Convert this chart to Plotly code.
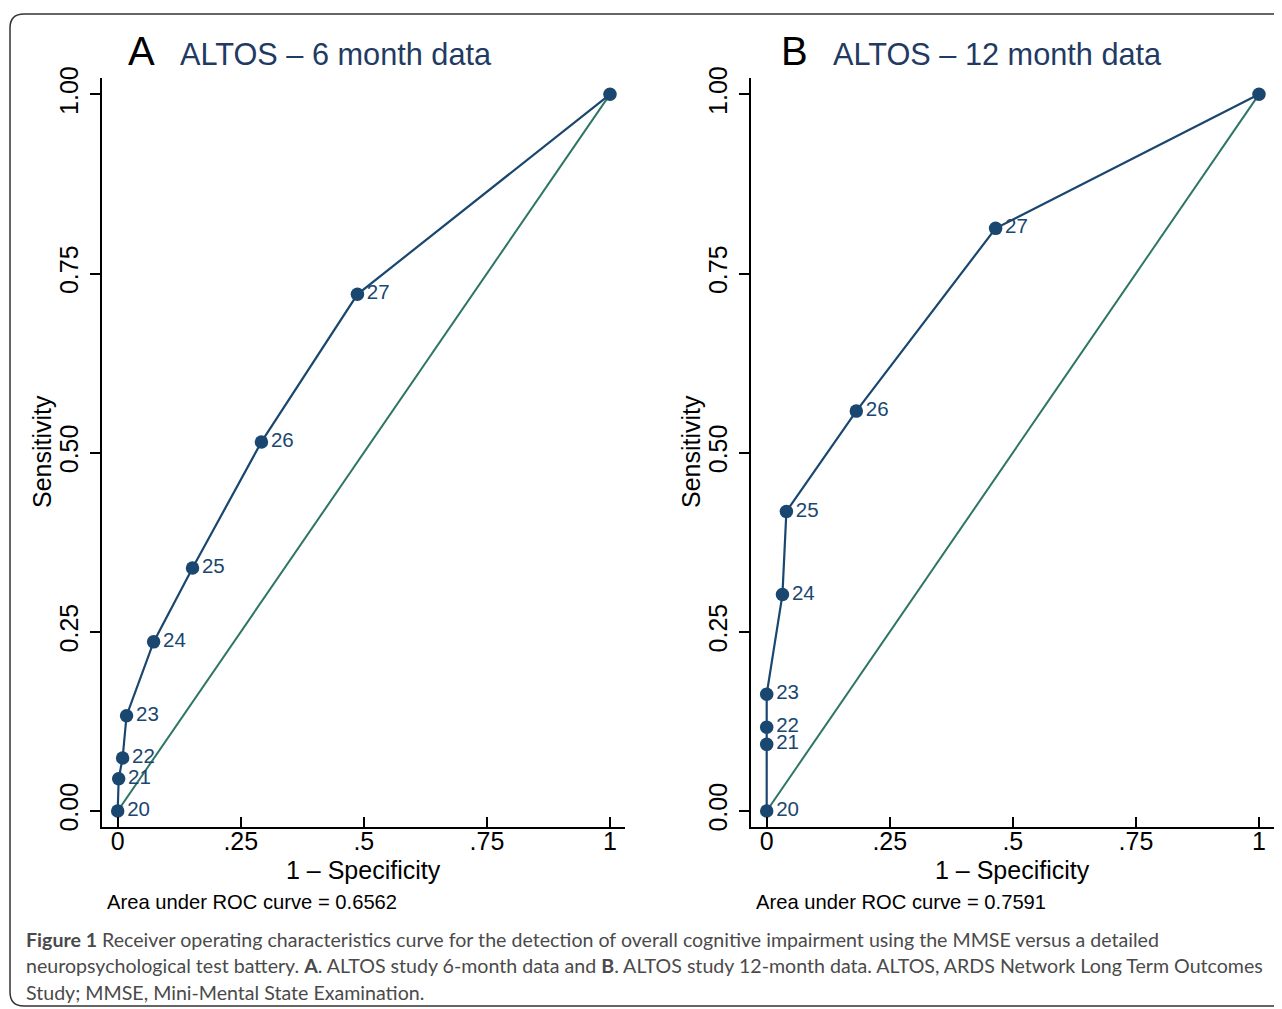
import plotly.graph_objects as go

# ---------------- data ----------------
cutoff_labels = ["20", "21", "22", "23", "24", "25", "26", "27", ""]

fpr_6m = [0.0, 0.002, 0.010, 0.018, 0.073, 0.152, 0.292, 0.487, 1.0]
sens_6m = [0.0, 0.045, 0.074, 0.133, 0.236, 0.339, 0.515, 0.721, 1.0]

fpr_12m = [0.0, 0.0, 0.0, 0.0, 0.032, 0.040, 0.182, 0.465, 1.0]
sens_12m = [0.0, 0.093, 0.117, 0.163, 0.302, 0.418, 0.558, 0.813, 1.0]

ref_line = [0.0, 1.0]

x_tickvals = [0, 0.25, 0.5, 0.75, 1]
x_ticktext = ["0", ".25", ".5", ".75", "1"]
y_tickvals = [0, 0.25, 0.5, 0.75, 1]
y_ticktext = ["0.00", "0.25", "0.50", "0.75", "1.00"]

panel_letters = ["A", "B"]
panel_titles = ["ALTOS \u2013 6 month data", "ALTOS \u2013 12 month data"]
auc_texts = ["Area under ROC curve = 0.6562", "Area under ROC curve = 0.7591"]

caption_lines = [
    "<b>Figure 1</b> Receiver operating characteristics curve for the detection of overall cognitive impairment using the MMSE versus a detailed",
    "neuropsychological test battery. <b>A</b>. ALTOS study 6-month data and <b>B</b>. ALTOS study 12-month data. ALTOS, ARDS Network Long Term Outcomes",
    "Study; MMSE, Mini-Mental State Examination.",
]

# ---------------- styling / layout ----------------
W, H = 1282, 1009
OFF = 8  # page body margin
NAVY = "#1a476f"
TITLE_NAVY = "#1f3b63"
TEAL = "#2e7566"
FONT = "Liberation Sans, Arial, Helvetica, sans-serif"


def px(x):
    return (x - OFF) / W


def py(y):
    return 1 - (y - OFF) / H


fig = go.Figure()

panels = [
    dict(fpr=fpr_6m, sens=sens_6m, xa="x", ya="y", left=101.7, right=625),
    dict(fpr=fpr_12m, sens=sens_12m, xa="x2", ya="y2", left=750.7, right=1274),
]

for i, p in enumerate(panels):
    fig.add_trace(go.Scatter(
        x=ref_line, y=ref_line, mode="lines",
        line=dict(color=TEAL, width=2),
        xaxis=p["xa"], yaxis=p["ya"], showlegend=False, hoverinfo="skip",
    ))
    fig.add_trace(go.Scatter(
        x=p["fpr"], y=p["sens"], mode="lines+markers+text",
        line=dict(color=NAVY, width=2.2),
        marker=dict(color=NAVY, size=13.5),
        text=cutoff_labels, textposition="middle right",
        textfont=dict(color=NAVY, size=20.5, family=FONT),
        xaxis=p["xa"], yaxis=p["ya"], showlegend=False,
    ))

xrange_ = [-0.0325, 1.0305]
yrange_ = [-0.0219, 1.0228]
ydom = [py(826.7), py(78)]

axis_common = dict(
    showgrid=False, zeroline=False, showline=True, linecolor="black",
    linewidth=1.5, tickcolor="black", tickwidth=1.5, ticklen=10,
    tickfont=dict(size=25, color="black", family=FONT), automargin=False,
)

layout_axes = {}
for i, p in enumerate(panels):
    sfx = "" if i == 0 else str(i + 1)
    layout_axes["xaxis" + sfx] = dict(
        axis_common, domain=[px(p["left"]), px(p["right"])], range=xrange_,
        tickvals=x_tickvals, ticktext=x_ticktext, ticks="inside",
        anchor="y" + sfx, ticklabelstandoff=-8,
    )
    layout_axes["yaxis" + sfx] = dict(
        axis_common, domain=ydom, range=yrange_,
        tickvals=y_tickvals, ticktext=y_ticktext, ticks="outside",
        tickangle=-90, anchor="x" + sfx, ticklabelstandoff=2,
    )

fig.update_layout(
    width=W, height=H,
    margin=dict(l=0, r=0, t=0, b=0, pad=0, autoexpand=False),
    paper_bgcolor="white", plot_bgcolor="white",
    font=dict(family=FONT, color="black"),
    **layout_axes,
)

annotations = []
letter_x = [126, 779]
title_x = [178, 831]
auc_x = [105, 754]
xtitle_x = [363, 1012]
ytitle_x = [42, 691]
for i in range(2):
    annotations.append(dict(
        xref="paper", yref="paper", x=px(letter_x[i]), y=py(51),
        text=panel_letters[i], showarrow=False, xanchor="left", yanchor="middle",
        font=dict(size=40, color="black", family=FONT),
    ))
    annotations.append(dict(
        xref="paper", yref="paper", x=px(title_x[i]), y=py(55),
        text=panel_titles[i], showarrow=False, xanchor="left", yanchor="middle",
        font=dict(size=30.7, color=TITLE_NAVY, family=FONT),
    ))
    annotations.append(dict(
        xref="paper", yref="paper", x=px(xtitle_x[i]), y=py(870),
        text="1 \u2013 Specificity", showarrow=False, xanchor="center", yanchor="middle",
        font=dict(size=25, color="black", family=FONT),
    ))
    annotations.append(dict(
        xref="paper", yref="paper", x=px(ytitle_x[i]), y=py(452),
        text="Sensitivity", showarrow=False, xanchor="center", yanchor="middle",
        textangle=-90, font=dict(size=25, color="black", family=FONT),
    ))
    annotations.append(dict(
        xref="paper", yref="paper", x=px(auc_x[i]), y=py(902),
        text=auc_texts[i], showarrow=False, xanchor="left", yanchor="middle",
        font=dict(size=20.2, color="black", family=FONT),
    ))

cap_y = [939, 965.5, 992]
for line, yy in zip(caption_lines, cap_y):
    annotations.append(dict(
        xref="paper", yref="paper", x=px(24), y=py(yy),
        text=line, showarrow=False, xanchor="left", yanchor="middle",
        font=dict(size=19.6, color="#4a4a4a", family="Lato, Open Sans, sans-serif"),
    ))

fig.update_layout(annotations=annotations)

# rounded frame (right side runs past the page edge)
r = 14
L, T, B, R = 10, 14, 1006, 1300
path = (
    f"M {px(R)},{py(T)} L {px(L + r)},{py(T)} "
    f"Q {px(L)},{py(T)} {px(L)},{py(T + r)} "
    f"L {px(L)},{py(B - r)} "
    f"Q {px(L)},{py(B)} {px(L + r)},{py(B)} "
    f"L {px(R)},{py(B)}"
)
fig.add_shape(type="path", xref="paper", yref="paper", path=path,
              line=dict(color="#333333", width=1.5))

fig.write_html("out.html")
